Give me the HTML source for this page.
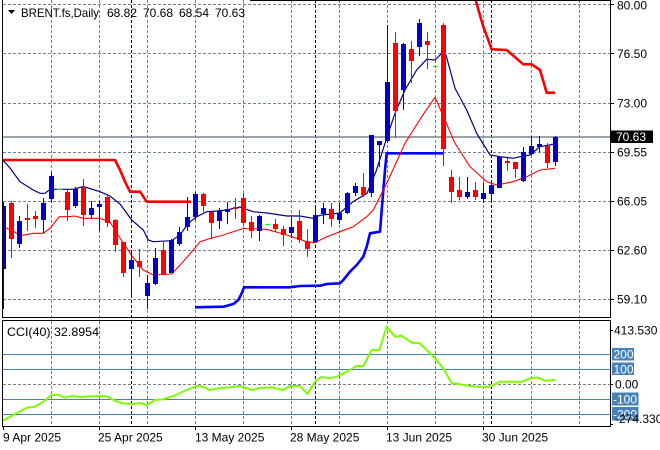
<!DOCTYPE html>
<html><head><meta charset="utf-8"><style>
html,body{margin:0;padding:0;background:#fff;}
svg{display:block;}
text{font-family:"Liberation Sans",Arial,sans-serif;font-size:12px;}
</style></head><body>
<svg width="660" height="450" viewBox="0 0 660 450" xmlns="http://www.w3.org/2000/svg">
<rect x="0" y="0" width="660" height="450" fill="#fff"/>
<defs>
<clipPath id="cm"><rect x="3" y="0" width="607" height="317"/></clipPath>
<clipPath id="cs"><rect x="3" y="321" width="607" height="105"/></clipPath>
</defs>

<!-- main grid -->
<g stroke="#708090" stroke-width="1" stroke-dasharray="3,2" shape-rendering="crispEdges">
<line x1="3" y1="4.5" x2="610" y2="4.5"/>
<line x1="3" y1="53.5" x2="610" y2="53.5"/>
<line x1="3" y1="103.5" x2="610" y2="103.5"/>
<line x1="3" y1="152.5" x2="610" y2="152.5"/>
<line x1="3" y1="201.5" x2="610" y2="201.5"/>
<line x1="3" y1="250.5" x2="610" y2="250.5"/>
<line x1="3" y1="299.5" x2="610" y2="299.5"/>
<line x1="51.5" y1="0" x2="51.5" y2="317"/>
<line x1="99.5" y1="0" x2="99.5" y2="317"/>
<line x1="147.5" y1="0" x2="147.5" y2="317"/>
<line x1="195.5" y1="0" x2="195.5" y2="317"/>
<line x1="243.5" y1="0" x2="243.5" y2="317"/>
<line x1="291.5" y1="0" x2="291.5" y2="317"/>
<line x1="339.5" y1="0" x2="339.5" y2="317"/>
<line x1="387.5" y1="0" x2="387.5" y2="317"/>
<line x1="435.5" y1="0" x2="435.5" y2="317"/>
<line x1="483.5" y1="0" x2="483.5" y2="317"/>
<line x1="531.5" y1="0" x2="531.5" y2="317"/>
<line x1="579.5" y1="0" x2="579.5" y2="317"/>
<!-- sub grid -->
<line x1="3" y1="384.5" x2="610" y2="384.5"/>
<line x1="51.5" y1="321" x2="51.5" y2="426"/>
<line x1="99.5" y1="321" x2="99.5" y2="426"/>
<line x1="147.5" y1="321" x2="147.5" y2="426"/>
<line x1="195.5" y1="321" x2="195.5" y2="426"/>
<line x1="243.5" y1="321" x2="243.5" y2="426"/>
<line x1="291.5" y1="321" x2="291.5" y2="426"/>
<line x1="339.5" y1="321" x2="339.5" y2="426"/>
<line x1="387.5" y1="321" x2="387.5" y2="426"/>
<line x1="435.5" y1="321" x2="435.5" y2="426"/>
<line x1="483.5" y1="321" x2="483.5" y2="426"/>
<line x1="531.5" y1="321" x2="531.5" y2="426"/>
<line x1="579.5" y1="321" x2="579.5" y2="426"/>
</g>
<g stroke="#000" stroke-width="1" stroke-dasharray="3,2" shape-rendering="crispEdges">
<line x1="131.5" y1="0" x2="131.5" y2="317"/>
<line x1="315.5" y1="0" x2="315.5" y2="317"/>
<line x1="491.5" y1="0" x2="491.5" y2="317"/>
<line x1="131.5" y1="321" x2="131.5" y2="426"/>
<line x1="315.5" y1="321" x2="315.5" y2="426"/>
<line x1="491.5" y1="321" x2="491.5" y2="426"/>
</g>

<!-- current price line -->
<line x1="3" y1="137" x2="610" y2="137" stroke="#7a8590" stroke-width="1.5"/>

<g clip-path="url(#cm)">
<!-- thick red step line -->
<polyline fill="none" stroke="#ff0000" stroke-width="2.6" stroke-linejoin="round" points="2,160 115,160 120,170 125,181.7 130,191.7 140,191.7 146.7,201.7 191,201.7"/>
<polyline fill="none" stroke="#ff0000" stroke-width="2.6" stroke-linejoin="round" points="475,-2 483.3,26.7 491.7,49.3 506.7,50 523.3,64.3 531.7,64.3 540,70 546.7,92.7 555,92.7"/>
<!-- thick blue step line -->
<polyline fill="none" stroke="#0000ff" stroke-width="2.6" stroke-linejoin="round" points="195,307.3 223.3,306.7 233.3,304 238.3,300 241.7,293.3 244,287.3 290,287.3 300,286 320,285.7 326.7,284 340,283.3 343.3,280 350,271.7 356.7,265 363.3,256.7 366.7,246.7 370,233.3 380,231.7 381.7,210 385,170 386.7,153.3 443,153.3"/>
<!-- navy MA -->
<polyline fill="none" stroke="#000080" stroke-width="1.2" points="2,159.3 10,168 20,181.7 33.3,190 40,193.3 45,193.3 50,189.3 73.3,189.3 83.3,186.5 100,191.7 110,196 120,204 131.7,220 143.3,230 148.3,240 153.3,241.7 171.7,240.7 180,235 188.3,223.3 196.7,216.7 206.7,211.7 216.7,211 226.7,210 240,207 253,211.7 267,213 287,216 300,216 313,218.3 320,215.3 340,213 353,201.7 367,193.3 376,171.5 385,143.3 395,113.3 405,90 416.7,70 426.7,59.3 435,60 441.7,53.3 446,55 455,88.3 466.7,110 476.7,133.3 490,155 500,156.7 513.3,158.3 520,156.7 530,155 540,146.7 555,144"/>
<!-- red thin MA -->
<polyline fill="none" stroke="#ff0000" stroke-width="1.1" points="2,228.3 6.7,228.3 13.3,231 20,235.7 33.3,233.3 43.3,233.3 50,228.3 59.3,216.7 66.7,216.7 75,216 83.3,218.3 100,218.3 110,222 120,238 131.7,255.5 143.3,270 153.3,275 171.7,274 181.7,263.3 193.3,250 200,241.7 210,238.5 223.3,235 243.3,228.5 266.7,229.3 286.7,235 306.7,241.7 315,242.7 326.7,236.7 340,231.7 353.3,226.7 366.7,216.7 373.3,210 388.3,180 405,143.3 421.7,116.7 435,97.3 445,120 455,143.3 470,166.7 486.7,181.7 496.7,185 513.3,181.7 526.7,176.7 540,170 555,168.3"/>

<!-- candles -->
<g shape-rendering="crispEdges">
<g fill="#0000cc">
<rect x="3" y="202" width="1" height="107"/><rect x="1" y="206" width="5" height="63"/>
<rect x="19" y="216" width="1" height="32"/><rect x="17" y="221" width="5" height="23"/>
<rect x="43" y="198" width="1" height="35"/><rect x="41" y="203" width="5" height="17"/>
<rect x="51" y="172" width="1" height="31"/><rect x="49" y="176" width="5" height="23"/>
<rect x="75" y="187" width="1" height="21"/><rect x="73" y="189" width="5" height="17"/>
<rect x="91" y="201" width="1" height="17"/><rect x="89" y="208" width="5" height="7"/>
<rect x="99" y="201" width="1" height="30"/><rect x="97" y="204" width="5" height="3"/>
<rect x="131" y="253" width="1" height="45"/><rect x="129" y="260" width="5" height="9"/>
<rect x="147" y="275" width="1" height="34"/><rect x="145" y="283" width="5" height="13"/>
<rect x="155" y="248" width="1" height="37"/><rect x="153" y="258" width="5" height="26"/>
<rect x="171" y="239" width="1" height="34"/><rect x="169" y="240" width="5" height="33"/>
<rect x="179" y="227" width="1" height="19"/><rect x="177" y="232" width="5" height="12"/>
<rect x="187" y="197" width="1" height="34"/><rect x="185" y="217" width="5" height="10"/>
<rect x="195" y="192" width="1" height="28"/><rect x="193" y="194" width="5" height="23"/>
<rect x="219" y="208" width="1" height="21"/><rect x="217" y="211" width="5" height="10"/>
<rect x="227" y="202" width="1" height="22"/><rect x="225" y="209" width="5" height="3"/>
<rect x="259" y="215" width="1" height="26"/><rect x="257" y="216" width="5" height="15"/>
<rect x="291" y="216" width="1" height="22"/><rect x="289" y="227" width="5" height="6"/>
<rect x="315" y="207" width="1" height="36"/><rect x="313" y="215" width="5" height="27"/>
<rect x="323" y="203" width="1" height="21"/><rect x="321" y="208" width="5" height="6"/>
<rect x="339" y="203" width="1" height="21"/><rect x="337" y="213" width="5" height="7"/>
<rect x="347" y="192" width="1" height="22"/><rect x="345" y="193" width="5" height="20"/>
<rect x="355" y="183" width="1" height="13"/><rect x="353" y="186" width="5" height="7"/>
<rect x="371" y="135" width="1" height="62"/><rect x="369" y="135" width="5" height="58"/>
<rect x="379" y="141" width="1" height="26"/><rect x="377" y="141" width="5" height="4"/>
<rect x="387" y="25" width="1" height="118"/><rect x="385" y="82" width="5" height="59"/>
<rect x="403" y="43" width="1" height="67"/><rect x="401" y="44" width="5" height="46"/>
<rect x="419" y="19" width="1" height="37"/><rect x="417" y="23" width="5" height="24"/>
<rect x="467" y="177" width="1" height="22"/><rect x="465" y="192" width="5" height="5"/>
<rect x="483" y="183" width="1" height="20"/><rect x="481" y="193" width="5" height="6"/>
<rect x="491" y="180" width="1" height="20"/><rect x="489" y="185" width="5" height="9"/>
<rect x="499" y="156" width="1" height="32"/><rect x="497" y="157" width="5" height="31"/>
<rect x="523" y="147" width="1" height="35"/><rect x="521" y="152" width="5" height="29"/>
<rect x="531" y="136" width="1" height="19"/><rect x="529" y="146" width="5" height="8"/>
<rect x="539" y="136" width="1" height="16"/><rect x="537" y="144" width="5" height="3"/>
<rect x="555" y="136" width="1" height="30"/><rect x="553" y="137" width="5" height="25"/>
</g>
<g fill="#ff0000">
<rect x="11" y="201" width="1" height="57"/><rect x="9" y="203" width="5" height="36"/>
<rect x="27" y="204" width="1" height="27"/><rect x="25" y="218" width="5" height="2"/>
<rect x="35" y="211" width="1" height="17"/><rect x="33" y="216" width="5" height="3"/>
<rect x="67" y="190" width="1" height="31"/><rect x="65" y="192" width="5" height="18"/>
<rect x="83" y="179" width="1" height="47"/><rect x="81" y="187" width="5" height="28"/>
<rect x="107" y="195" width="1" height="32"/><rect x="105" y="197" width="5" height="26"/>
<rect x="115" y="219" width="1" height="33"/><rect x="113" y="220" width="5" height="25"/>
<rect x="123" y="242" width="1" height="35"/><rect x="121" y="242" width="5" height="31"/>
<rect x="139" y="249" width="1" height="28"/><rect x="137" y="261" width="5" height="6"/>
<rect x="163" y="242" width="1" height="33"/><rect x="161" y="250" width="5" height="24"/>
<rect x="203" y="193" width="1" height="19"/><rect x="201" y="194" width="5" height="12"/>
<rect x="211" y="212" width="1" height="27"/><rect x="209" y="212" width="5" height="11"/>
<rect x="235" y="198" width="1" height="21"/><rect x="233" y="207" width="5" height="2"/>
<rect x="243" y="193" width="1" height="32"/><rect x="241" y="198" width="5" height="25"/>
<rect x="251" y="216" width="1" height="22"/><rect x="249" y="222" width="5" height="9"/>
<rect x="275" y="219" width="1" height="13"/><rect x="273" y="224" width="5" height="5"/>
<rect x="283" y="226" width="1" height="20"/><rect x="281" y="229" width="5" height="6"/>
<rect x="299" y="210" width="1" height="33"/><rect x="297" y="221" width="5" height="19"/>
<rect x="307" y="229" width="1" height="28"/><rect x="305" y="241" width="5" height="8"/>
<rect x="331" y="203" width="1" height="24"/><rect x="329" y="209" width="5" height="10"/>
<rect x="363" y="173" width="1" height="24"/><rect x="361" y="187" width="5" height="8"/>
<rect x="395" y="32" width="1" height="106"/><rect x="393" y="43" width="5" height="68"/>
<rect x="411" y="41" width="1" height="42"/><rect x="409" y="49" width="5" height="12"/>
<rect x="427" y="32" width="1" height="37"/><rect x="425" y="41" width="5" height="4"/>
<rect x="443" y="23" width="1" height="143"/><rect x="441" y="25" width="5" height="124"/>
<rect x="451" y="170" width="1" height="33"/><rect x="449" y="177" width="5" height="15"/>
<rect x="459" y="177" width="1" height="23"/><rect x="457" y="190" width="5" height="7"/>
<rect x="475" y="182" width="1" height="18"/><rect x="473" y="190" width="5" height="7"/>
<rect x="507" y="158" width="1" height="13"/><rect x="505" y="161" width="5" height="2"/>
<rect x="515" y="162" width="1" height="16"/><rect x="513" y="162" width="5" height="7"/>
<rect x="547" y="143" width="1" height="25"/><rect x="545" y="146" width="5" height="17"/>
</g>
<g fill="#00ff00">
<rect x="57" y="189" width="5" height="1"/>
<rect x="265" y="224" width="5" height="1"/>
<rect x="433" y="66" width="5" height="1"/>
</g>
</g>
</g>

<!-- CCI levels -->
<g stroke="#4682b4" stroke-width="1" shape-rendering="crispEdges">
<line x1="3" y1="354.5" x2="610" y2="354.5"/>
<line x1="3" y1="369.5" x2="610" y2="369.5"/>
<line x1="3" y1="399.5" x2="610" y2="399.5"/>
<line x1="3" y1="414.5" x2="610" y2="414.5"/>
</g>
<g clip-path="url(#cs)">
<polyline fill="none" stroke="#7cfc00" stroke-width="2" stroke-linejoin="round" points="2.7,420.7 13.3,415 26.7,407.7 35,406.7 43.3,401.7 51.7,395 58.3,395 65,397.7 71.7,396 80,397 91.7,396.3 106.7,396.3 115,400.7 121.7,403.3 133.3,404 140,403 146.7,405 155,400 163.3,399.3 173.3,396 186.7,390 196.7,386 203.3,386.7 210,390 218.3,388.3 230,387.3 240,386 251.7,390 260,388 271.7,387.3 283.3,390 290,386 300,386 307.3,394 315,381.7 321.7,376.7 328.3,378.3 336.7,376.7 346.7,371.7 356.7,366 363.3,366 371.7,350 379.3,350 386.7,326.7 395,336.7 401.7,335.7 411.7,342.7 419.3,343 426.7,350 435,358.3 443.3,368.3 451.7,383.3 460,384.3 468.3,385.7 476.7,386.7 490,386.7 500,381.7 521.7,381.7 531.7,377.7 538.3,377.7 545,380.7 555,380"/>
</g>

<!-- frames -->
<g fill="none" stroke="#000" stroke-width="1" shape-rendering="crispEdges">
<line x1="2.5" y1="0" x2="2.5" y2="318"/>
<line x1="610.5" y1="0" x2="610.5" y2="318"/>
<line x1="2" y1="317.5" x2="611" y2="317.5"/>
<line x1="250" y1="0.5" x2="611" y2="0.5"/>
<rect x="2.5" y="320.5" width="608" height="106"/>
<!-- ticks -->
<line x1="610" y1="4.5" x2="614" y2="4.5"/>
<line x1="610" y1="53.5" x2="614" y2="53.5"/>
<line x1="610" y1="103.5" x2="614" y2="103.5"/>
<line x1="610" y1="152.5" x2="614" y2="152.5"/>
<line x1="610" y1="201.5" x2="614" y2="201.5"/>
<line x1="610" y1="250.5" x2="614" y2="250.5"/>
<line x1="610" y1="299.5" x2="614" y2="299.5"/>
<line x1="610" y1="330.5" x2="613" y2="330.5"/>
<line x1="610" y1="384.5" x2="613" y2="384.5"/>
<line x1="610" y1="424.5" x2="613" y2="424.5"/>
<line x1="3.5" y1="427" x2="3.5" y2="430"/>
<line x1="99.5" y1="427" x2="99.5" y2="430"/>
<line x1="195.5" y1="427" x2="195.5" y2="430"/>
<line x1="291.5" y1="427" x2="291.5" y2="430"/>
<line x1="387.5" y1="427" x2="387.5" y2="430"/>
<line x1="483.5" y1="427" x2="483.5" y2="430"/>
</g>

<!-- title -->
<polygon points="8,10 15,10 11.5,14" fill="#000"/>
<text x="21" y="17" fill="#000" textLength="78" lengthAdjust="spacingAndGlyphs">BRENT.fs,Daily</text>
<text x="107" y="17" fill="#000">68.82</text>
<text x="143" y="17" fill="#000">70.68</text>
<text x="179" y="17" fill="#000">68.54</text>
<text x="215" y="17" fill="#000">70.63</text>

<!-- price labels -->
<g fill="#000">
<text x="617" y="9.5">80.00</text>
<text x="617" y="58">76.50</text>
<text x="617" y="107.5">73.00</text>
<text x="617" y="156.5">69.55</text>
<text x="617" y="205.5">66.05</text>
<text x="617" y="254.5">62.60</text>
<text x="617" y="303.5">59.10</text>
</g>
<rect x="611" y="130.5" width="42" height="12.5" fill="#000"/>
<text x="616" y="141" fill="#fff">70.63</text>

<!-- CCI labels -->
<text x="7" y="336" fill="#000" textLength="92" lengthAdjust="spacingAndGlyphs">CCI(40) 32.8954</text>
<text x="614" y="334.5" fill="#000">413.530</text>
<rect x="612" y="348" width="22" height="12.5" fill="#4682b4"/>
<text x="613.5" y="358.5" fill="#fff">200</text>
<rect x="612" y="362.5" width="22" height="12.5" fill="#4682b4"/>
<text x="613.5" y="373.5" fill="#fff">100</text>
<text x="615" y="388.5" fill="#000">0.00</text>
<rect x="612" y="392.5" width="26.5" height="13" fill="#4682b4"/>
<text x="613" y="403.5" fill="#fff">-100</text>
<rect x="612" y="407" width="26.5" height="13.5" fill="#4682b4"/>
<text x="613" y="418.5" fill="#fff">-200</text>
<text x="615" y="423" fill="#000">-274.330</text>

<!-- date labels -->
<g fill="#000">
<text x="3" y="441.5">9 Apr 2025</text>
<text x="98" y="441.5">25 Apr 2025</text>
<text x="195" y="441.5">13 May 2025</text>
<text x="290" y="441.5">28 May 2025</text>
<text x="386" y="441.5">13 Jun 2025</text>
<text x="482" y="441.5">30 Jun 2025</text>
</g>
</svg>
</body></html>
